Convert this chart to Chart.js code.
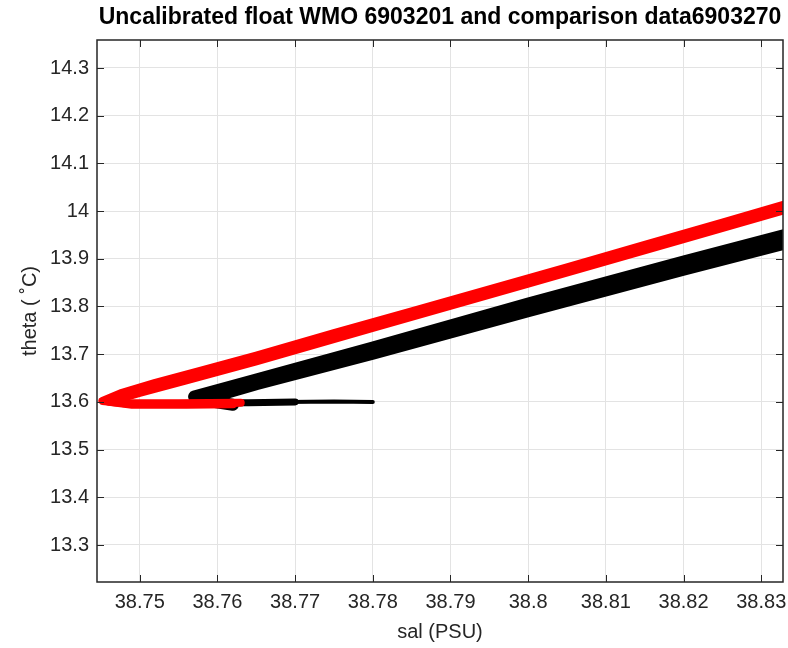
<!DOCTYPE html>
<html lang="en">
<head>
    <meta charset="UTF-8">
    <title>Uncalibrated float theta-S</title>
    <script src="https://cdn.jsdelivr.net/npm/chart.js"></script>
    <style>
        body {
            margin: 0;
            padding: 0;
            background-color: #ffffff;
        }

        #wrap {
            width: 788px;
            height: 648px;
        }
    </style>
</head>
<body>
    <div id="wrap"><canvas id="tsChart"></canvas></div>

    <script>
        // Axis ticks
        const salTicks = [38.75, 38.76, 38.77, 38.78, 38.79, 38.8, 38.81, 38.82, 38.83];
        const thetaTicks = [13.3, 13.4, 13.5, 13.6, 13.7, 13.8, 13.9, 14, 14.1, 14.2, 14.3];

        // Uncalibrated float (red), two profiles
        const floatSalA = [38.833, 38.825, 38.815, 38.805, 38.795, 38.785, 38.775, 38.765, 38.758, 38.752, 38.7475, 38.7452, 38.748, 38.755, 38.763];
        const floatThetaA = [14.014, 13.976, 13.929, 13.882, 13.836, 13.790, 13.744, 13.697, 13.666, 13.640, 13.618, 13.602, 13.597, 13.597, 13.598];
        const floatSalB = [38.833, 38.82, 38.80, 38.78, 38.765, 38.756, 38.750, 38.7460, 38.749, 38.756, 38.762];
        const floatThetaB = [14.002, 13.941, 13.848, 13.755, 13.685, 13.645, 13.619, 13.600, 13.594, 13.594, 13.595];

        // Comparison data 6903270 (black)
        const refSalA = [38.833, 38.82, 38.80, 38.78, 38.765, 38.757];
        const refThetaA = [13.950, 13.894, 13.806, 13.714, 13.647, 13.611];
        const refSalB = [38.833, 38.82, 38.80, 38.78, 38.765, 38.758, 38.762];
        const refThetaB = [13.932, 13.877, 13.790, 13.701, 13.637, 13.604, 13.594];
        const refTailSal = [38.758, 38.764, 38.770];
        const refTailTheta = [13.598, 13.598, 13.600];
        const refTipSal = [38.769, 38.775, 38.780];
        const refTipTheta = [13.600, 13.601, 13.600];

        const pts = (xs, ys) => xs.map((x, i) => ({ x: x, y: ys[i] }));

        const line = (xs, ys, color, width) => ({
            data: pts(xs, ys),
            showLine: true,
            borderColor: color,
            backgroundColor: color,
            borderWidth: width,
            pointRadius: 0,
            tension: 0,
            borderJoinStyle: 'round',
            borderCapStyle: 'round'
        });

        const fontFamily = 'Arial, "Liberation Sans", sans-serif';

        // inward tick marks on all four sides, like matlab
        const boxTicks = {
            id: 'boxTicks',
            afterDraw(chart) {
                const c = chart.ctx;
                const a = chart.chartArea;
                const xs = chart.scales.x, ys = chart.scales.y;
                c.save();
                c.strokeStyle = '#262626';
                c.lineWidth = 1;
                c.beginPath();
                salTicks.forEach(v => {
                    const px = Math.round(xs.getPixelForValue(v)) + 0.5;
                    c.moveTo(px, a.bottom); c.lineTo(px, a.bottom - 7);
                    c.moveTo(px, a.top); c.lineTo(px, a.top + 7);
                });
                thetaTicks.forEach(v => {
                    const py = Math.round(ys.getPixelForValue(v)) + 0.5;
                    c.moveTo(a.left, py); c.lineTo(a.left + 7, py);
                    c.moveTo(a.right, py); c.lineTo(a.right - 7, py);
                });
                c.stroke();
                c.lineWidth = 1.5;
                c.strokeRect(a.left, a.top, a.right - a.left, a.bottom - a.top);
                c.restore();
            }
        };

        const ctx = document.getElementById('tsChart').getContext('2d');
        const tsChart = new Chart(ctx, {
            type: 'scatter',
            data: {
                datasets: [
                    line(floatSalA, floatThetaA, '#ff0000', 8),
                    line(floatSalB, floatThetaB, '#ff0000', 8),
                    line(refSalA, refThetaA, '#000000', 12),
                    line(refSalB, refThetaB, '#000000', 12),
                    line(refTailSal, refTailTheta, '#000000', 7),
                    line(refTipSal, refTipTheta, '#000000', 4)
                ]
            },
            options: {
                responsive: true,
                maintainAspectRatio: false,
                animation: false,
                layout: { padding: { left: 0, right: 5, top: 0, bottom: 0 } },
                plugins: {
                    legend: { display: false },
                    tooltip: { enabled: false },
                    title: {
                        display: true,
                        fullSize: false,
                        text: 'Uncalibrated float WMO 6903201 and comparison data6903270',
                        color: '#000000',
                        font: { family: fontFamily, size: 23, weight: 'bold' },
                        padding: { top: 4, bottom: 8.4 }
                    }
                },
                scales: {
                    x: {
                        type: 'linear',
                        min: 38.7445,
                        max: 38.8328,
                        afterBuildTicks: s => { s.ticks = salTicks.map(v => ({ value: v })); },
                        afterFit: s => { s.height = 66; s.paddingLeft = 0; s.paddingRight = 0; },
                        grid: { color: '#e3e3e3', drawTicks: false },
                        border: { display: false },
                        ticks: {
                            color: '#262626',
                            padding: 8,
                            font: { family: fontFamily, size: 20 },
                            callback: v => String(+v.toFixed(2))
                        },
                        title: {
                            display: true,
                            text: 'sal (PSU)',
                            color: '#262626',
                            font: { family: fontFamily, size: 20 },
                            padding: { top: 0, bottom: 4 }
                        }
                    },
                    y: {
                        type: 'linear',
                        min: 13.2224,
                        max: 14.3587,
                        afterBuildTicks: s => { s.ticks = thetaTicks.map(v => ({ value: v })); },
                        afterFit: s => { s.width = 97; },
                        grid: { color: '#e3e3e3', drawTicks: false },
                        border: { display: false },
                        ticks: {
                            color: '#262626',
                            padding: 8,
                            font: { family: fontFamily, size: 20 },
                            callback: v => String(+v.toFixed(1))
                        },
                        title: {
                            display: true,
                            text: 'theta ( \u02DAC)',
                            color: '#262626',
                            font: { family: fontFamily, size: 20 },
                            padding: { top: 18, bottom: 0 }
                        }
                    }
                }
            },
            plugins: [boxTicks]
        });
    </script>
</body>
</html>
